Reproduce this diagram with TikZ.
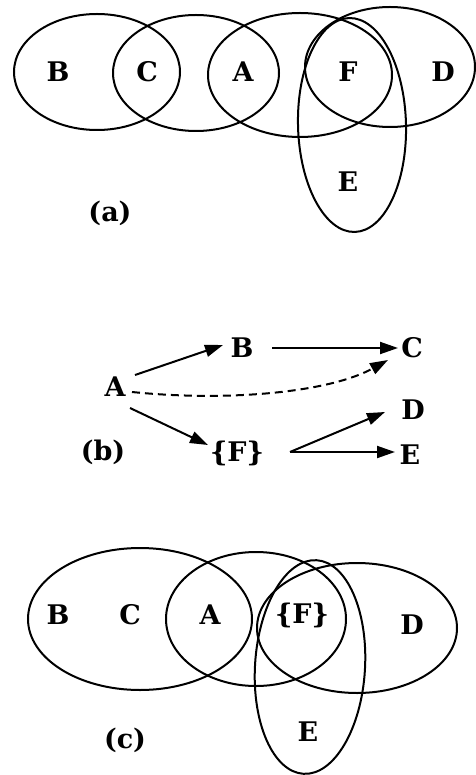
\documentclass[tikz,border=0pt]{standalone}
\usepackage{fontspec}
\setmainfont{DejaVu Serif}
\usetikzlibrary{arrows.meta}
\begin{document}
\begin{tikzpicture}[x=1pt,y=-1pt,
  lbl/.style={font=\fontsize{27}{29}\selectfont\bfseries, inner sep=0pt},
  ring/.style={line width=2pt},
  arr/.style={line width=2pt, -{Triangle[length=18pt,width=12pt]}},
  darr/.style={arr, dash pattern=on 8pt off 5pt}]
\useasboundingbox (0,0) rectangle (475,775);
% ---------- (a)
\draw[ring] (97,72) ellipse [x radius=83, y radius=58];
\draw[ring] (196,73) ellipse [x radius=83, y radius=58];
\draw[ring] (300,75) ellipse [x radius=92, y radius=62];
\draw[ring] (390,67) ellipse [x radius=85, y radius=60];
\draw[ring, rotate around={1.5:(352,125)}] (352,125) ellipse [x radius=54, y radius=107];
\node[lbl] (aB) at (58,72) {B};
\node[lbl] (aC) at (147,72) {C};
\node[lbl] (aA) at (243,72) {A};
\node[lbl] (aF) at (348,72) {F};
\node[lbl] (aD) at (443,72) {D};
\node[lbl] (aE) at (348,182) {E};
\node[lbl] (la) at (110,213) {(a)};
% ---------- (b)
\node[lbl] (A) at (115,387) {A};
\node[lbl] (B) at (242,348) {B};
\node[lbl] (C) at (412,348) {C};
\node[lbl] (D) at (413,410) {D};
\node[lbl] (E) at (410,455) {E};
\node[lbl] (F) at (237,453) {\{F\}};
\node[lbl] (lb) at (103,452) {(b)};
\draw[arr] ([shift={(20,-12)}]A.center) -- ([shift={(-19,-3)}]B.center);
\draw[arr] ([shift={(30,0)}]B.center) -- ([shift={(-14,0)}]C.center);
\draw[darr] ([shift={(17,5)}]A.center) .. controls (230,402) and (330,392) .. ([shift={(-24,12)}]C.center);
\draw[arr] ([shift={(15,21)}]A.center) -- ([shift={(-29,-8)}]F.center);
\draw[arr] ([shift={(53,-1)}]F.center) -- ([shift={(-28,2)}]D.center);
\draw[arr] ([shift={(53,-1)}]F.center) -- ([shift={(-15,-3)}]E.center);
% ---------- (c)
\draw[ring] (140,619) ellipse [x radius=112, y radius=71];
\draw[ring] (256,619) ellipse [x radius=90, y radius=67];
\draw[ring] (357,628) ellipse [x radius=100, y radius=65];
\draw[ring, rotate around={-3.5:(310,667)}] (310,667) ellipse [x radius=55, y radius=107];
\node[lbl] (cB) at (58,615) {B};
\node[lbl] (cC) at (130,615) {C};
\node[lbl] (cA) at (210,615) {A};
\node[lbl] (cF) at (302,615) {\{F\}};
\node[lbl] (cD) at (412,625) {D};
\node[lbl] (cE) at (308,732) {E};
\node[lbl] (lc) at (125,740) {(c)};
\end{tikzpicture}
\end{document}
